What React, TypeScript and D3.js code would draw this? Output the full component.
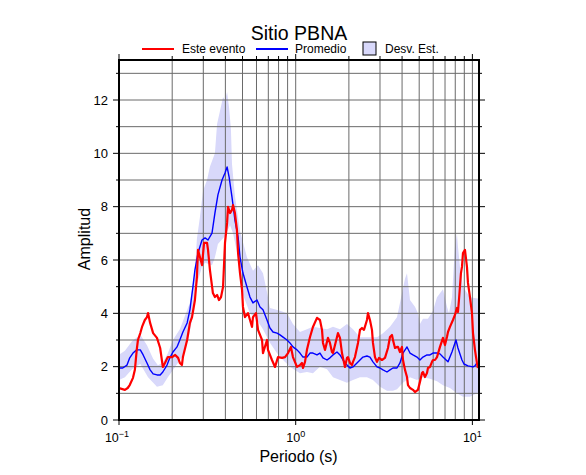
import React from 'react';
import * as d3 from 'd3';

// ---- Data (period in s, amplitude) ----
const redPeriod = [0.100,0.108,0.112,0.115,0.120,0.123,0.126,0.128,0.132,0.135,0.140,0.144,0.146,0.150,0.156,0.164,0.171,0.177,0.182,0.189,0.200,0.208,0.216,0.221,0.227,0.230,0.243,0.252,0.259,0.269,0.276,0.280,0.287,0.295,0.303,0.315,0.319,0.327,0.340,0.349,0.359,0.368,0.378,0.388,0.398,0.409,0.414,0.425,0.436,0.442,0.453,0.465,0.472,0.484,0.497,0.503,0.516,0.537,0.566,0.573,0.596,0.612,0.645,0.653,0.688,0.697,0.734,0.764,0.794,0.837,0.870,0.905,0.940,0.965,1.017,1.057,1.085,1.100,1.129,1.158,1.205,1.252,1.320,1.372,1.409,1.427,1.465,1.523,1.563,1.604,1.626,1.713,1.735,1.781,1.828,1.852,1.901,1.951,1.977,2.029,2.082,2.110,2.165,2.252,2.311,2.372,2.435,2.531,2.565,2.632,2.702,2.737,2.810,2.884,2.960,3.078,3.201,3.329,3.417,3.507,3.553,3.647,3.743,3.793,3.892,3.995,4.048,4.155,4.265,4.321,4.435,4.611,4.732,4.920,5.050,5.185,5.252,5.391,5.534,5.606,5.754,5.906,5.984,6.143,6.305,6.555,6.816,6.995,7.180,7.275,7.465,7.763,7.968,8.179,8.286,8.394,8.616,8.730,8.845,9.078,9.318,9.441,9.690,9.945,10.08,10.34,10.61,10.75];
const redAmp = [1.20,1.13,1.20,1.31,1.58,1.88,2.63,3.00,3.26,3.49,3.75,3.86,4.01,3.64,3.26,3.08,2.70,1.99,2.14,2.36,2.36,2.44,2.33,2.14,2.06,2.36,3.00,3.64,3.86,4.50,5.36,6.38,6.11,5.81,6.64,6.64,6.38,5.63,4.76,4.61,4.69,4.50,4.61,4.99,6.64,7.39,7.99,7.76,7.88,8.06,7.76,7.13,6.26,5.51,4.88,4.24,3.86,4.01,3.49,3.86,4.01,3.38,3.00,2.51,3.00,2.63,2.25,1.99,2.36,2.33,2.36,2.51,2.74,2.36,1.99,2.06,2.14,1.95,2.18,2.63,3.11,3.49,3.83,3.75,3.38,2.89,2.63,3.08,2.89,2.55,2.51,3.11,3.26,3.08,2.51,2.33,1.99,2.33,2.36,2.14,2.06,2.18,2.36,2.89,3.38,3.45,3.38,3.75,4.01,3.75,3.38,2.89,2.36,2.18,2.33,2.25,2.33,2.70,3.11,3.19,3.00,2.70,2.74,2.74,2.55,2.74,2.25,1.88,1.61,1.31,1.20,1.13,1.05,1.13,1.43,1.76,1.80,1.61,1.76,1.95,1.99,2.18,2.25,2.25,2.36,2.74,3.08,2.81,3.11,3.30,3.49,3.75,3.94,4.20,4.05,4.50,5.51,5.74,6.26,6.38,5.74,5.14,4.61,4.01,3.26,2.63,2.14,1.95];

const bluePeriod = [0.100,0.105,0.111,0.115,0.120,0.126,0.132,0.137,0.144,0.150,0.156,0.164,0.171,0.177,0.187,0.194,0.202,0.213,0.221,0.230,0.243,0.252,0.262,0.269,0.280,0.295,0.307,0.319,0.336,0.349,0.363,0.383,0.398,0.409,0.420,0.436,0.453,0.472,0.484,0.503,0.530,0.551,0.573,0.604,0.628,0.653,0.688,0.715,0.744,0.784,0.815,0.848,0.893,0.928,0.965,1.017,1.057,1.100,1.158,1.205,1.252,1.320,1.372,1.427,1.504,1.563,1.626,1.713,1.781,1.852,1.951,2.029,2.110,2.223,2.311,2.403,2.531,2.632,2.737,2.884,2.999,3.119,3.286,3.417,3.553,3.743,3.892,4.048,4.265,4.435,4.611,4.858,5.050,5.252,5.534,5.754,5.984,6.305,6.555,6.816,7.275,7.663,8.074,8.286,8.730,8.961,9.441,10.08,10.34,10.61,10.90];
const blueAmp = [1.95,1.95,2.06,2.33,2.51,2.63,2.63,2.44,2.14,1.88,1.73,1.69,1.69,1.80,2.06,2.33,2.55,2.74,3.00,3.30,3.64,4.13,4.99,5.63,6.26,6.75,6.83,6.75,7.01,7.76,8.44,9.00,9.26,9.49,9.11,8.36,7.50,6.86,6.11,5.51,4.99,4.61,4.39,4.50,4.24,4.13,3.75,3.45,3.30,3.26,3.19,3.11,3.00,2.89,2.74,2.63,2.51,2.36,2.36,2.51,2.51,2.44,2.51,2.33,2.25,2.33,2.44,2.55,2.44,2.25,2.06,1.95,1.99,2.14,2.25,2.36,2.40,2.36,2.18,1.99,1.95,1.88,1.80,1.88,1.95,1.95,2.14,2.51,2.74,2.51,2.44,2.36,2.25,2.36,2.44,2.44,2.51,2.51,2.48,2.36,2.18,2.55,3.00,2.70,2.25,2.10,2.03,1.99,2.03,2.14,2.06];

const upperPeriod = [0.100,0.108,0.1185,0.132,0.144,0.156,0.166,0.177,0.189,0.202,0.221,0.236,0.252,0.269,0.276,0.287,0.299,0.315,0.327,0.349,0.359,0.373,0.388,0.398,0.409,0.420,0.430,0.436,0.453,0.484,0.530,0.573,0.612,0.653,0.688,0.715,0.815,0.893,0.965,1.057,1.158,1.252,1.372,1.504,1.626,1.781,1.951,2.110,2.311,2.531,2.884,3.119,3.417,3.743,3.995,4.155,4.265,4.435,4.732,4.920,5.050,5.252,5.606,5.984,6.305,6.555,6.816,7.180,7.371,7.663,7.968,8.179,8.286,8.505,8.845,9.690,10.90];
const upperAmp = [2.45,2.6,2.95,3.2,2.8,2.3,2.05,2.15,2.5,3.0,3.4,3.9,4.4,5.6,6.8,7.6,8.6,9.0,9.5,10.0,11.1,11.6,12.1,12.0,12.3,11.7,10.9,9.6,8.4,7.1,6.1,5.6,5.8,5.5,4.8,4.2,4.1,4.0,3.6,3.3,3.4,3.5,3.45,3.4,3.5,3.4,3.6,3.4,3.1,3.1,3.1,3.25,3.5,3.85,4.75,5.3,5.5,4.5,4.25,4.0,3.6,3.8,3.8,4.1,4.6,4.75,4.9,4.25,4.0,4.6,6.5,7.0,6.5,5.75,5.0,4.6,4.55];

const lowerPeriod = [0.100,0.108,0.1185,0.132,0.146,0.164,0.177,0.189,0.208,0.227,0.246,0.262,0.276,0.295,0.307,0.336,0.349,0.363,0.398,0.425,0.442,0.465,0.484,0.503,0.530,0.551,0.604,0.653,0.715,0.784,0.848,0.928,1.057,1.158,1.252,1.372,1.504,1.626,1.781,1.951,2.110,2.311,2.531,2.737,2.999,3.286,3.553,3.743,4.048,4.435,4.858,5.252,5.754,6.305,6.816,7.465,8.179,8.845,9.690,10.61,10.90];
const lowerAmp = [1.5,1.6,1.9,2.1,1.6,1.25,1.3,1.6,2.0,2.35,3.0,3.9,5.1,5.75,5.9,5.8,6.1,6.6,6.9,7.3,7.0,6.3,5.4,4.7,4.3,4.0,3.75,3.4,2.9,2.5,2.25,2.0,1.75,1.8,1.75,2.0,1.9,1.6,1.5,1.4,1.5,1.6,1.6,1.5,1.25,1.1,1.1,1.15,1.4,1.6,1.5,1.6,1.55,1.45,1.3,1.2,1.0,0.87,0.87,1.0,1.05];

const xGrid = [0.2,0.3,0.4,0.5,0.6,0.7,0.8,0.9,1,2,3,4,5,6,7,8,9,10];
const xMajor = [0.1,1,10];
const xMajorExp = ['−1','0','1'];
const yTicks = [0,1,2,3,4,5,6,7,8,9,10,11,12,13];
const yLabels = [0,2,4,6,8,10,12];

const title = 'Sitio PBNA';
const legendLabels = ['Este evento','Promedio','Desv. Est.'];
const xTitle = 'Periodo (s)';
const yTitle = 'Amplitud';

const FONT = '"Liberation Sans", Arial, Helvetica, sans-serif';

export default function App() {
  const L = 119, R = 479, T = 60, B = 420;
  const x = d3.scaleLog().domain([0.1, 10.9]).range([L, R]);
  const y = d3.scaleLinear().domain([0, 13.5]).range([B, T]);

  const line = d3.line<[number, number]>().x(d => x(d[0])).y(d => y(d[1]));
  const red = redPeriod.map((p, i) => [p, redAmp[i]] as [number, number]);
  const blue = bluePeriod.map((p, i) => [p, blueAmp[i]] as [number, number]);
  const up = upperPeriod.map((p, i) => [p, upperAmp[i]] as [number, number]);
  const lo = lowerPeriod.map((p, i) => [p, lowerAmp[i]] as [number, number]).reverse();
  const bandPath = line([...up, ...lo]) + 'Z';

  const gridColor = '#6a6a6a';

  return (
    <svg width={586} height={475} style={{ position: 'absolute', left: 0, top: 0, background: '#fff' }} fontFamily={FONT}>
      <defs>
        <clipPath id="plot"><rect x={L} y={T} width={R - L} height={B - T} /></clipPath>
      </defs>
      <rect x={0} y={0} width={586} height={475} fill="#fff" />
      <g clipPath="url(#plot)">
        <path d={bandPath} fill="#d8d8fa" stroke="none" />
      </g>
      {/* grid */}
      {xGrid.map(v => (
        <line key={'gx' + v} x1={x(v)} x2={x(v)} y1={T} y2={B} stroke={gridColor} strokeWidth={1} />
      ))}
      {yTicks.filter(v => v > 0).map(v => (
        <line key={'gy' + v} x1={L} x2={R} y1={y(v)} y2={y(v)} stroke={gridColor} strokeWidth={1} />
      ))}
      <g clipPath="url(#plot)">
        <path d={line(blue) || ''} fill="none" stroke="#0000ff" strokeWidth={1.4} strokeLinejoin="round" />
        <path d={line(red) || ''} fill="none" stroke="#ff0000" strokeWidth={2.2} strokeLinejoin="round" />
      </g>
      {/* ticks */}
      {yTicks.map(v => {
        const len = v % 2 === 0 ? 6 : 3;
        return (
          <g key={'ty' + v}>
            <line x1={L - len} x2={L} y1={y(v)} y2={y(v)} stroke="#000" strokeWidth={1} />
            <line x1={R} x2={R + len} y1={y(v)} y2={y(v)} stroke="#000" strokeWidth={1} />
          </g>
        );
      })}
      {[0.1, ...xGrid].map(v => {
        const major = xMajor.includes(v);
        const len = major ? 6 : 4;
        return (
          <g key={'tx' + v}>
            <line x1={x(v)} x2={x(v)} y1={T - len} y2={T} stroke="#000" strokeWidth={1} />
            {major && <line x1={x(v)} x2={x(v)} y1={B} y2={B + 5} stroke="#000" strokeWidth={1} />}
          </g>
        );
      })}
      {/* frame */}
      <rect x={L} y={T} width={R - L} height={B - T} fill="none" stroke="#000" strokeWidth={2} />
      {/* y labels */}
      {yLabels.map(v => (
        <text key={'ly' + v} x={108} y={y(v)} dy="0.35em" textAnchor="end" fontSize={13} fill="#000">{v}</text>
      ))}
      {/* x labels */}
      {xMajor.map((v, i) => (
        <text key={'lx' + v} x={x(v) - (i === 0 ? 2 : 0)} y={442} textAnchor="middle" fontSize={12.5} fill="#000">
          10<tspan dy={-5} fontSize={9}>{xMajorExp[i]}</tspan>
        </text>
      ))}
      {/* titles */}
      <text x={299} y={39.5} textAnchor="middle" fontSize={19.5} fill="#000">{title}</text>
      <text x={298.5} y={462} textAnchor="middle" fontSize={16} fill="#000">{xTitle}</text>
      <text transform="translate(89.5,239) rotate(-90)" textAnchor="middle" fontSize={16} fill="#000">{yTitle}</text>
      {/* legend */}
      <line x1={142} x2={174} y1={49} y2={49} stroke="#ff0000" strokeWidth={2} />
      <text x={182} y={53} fontSize={12} fill="#000">{legendLabels[0]}</text>
      <line x1={256} x2={288} y1={49} y2={49} stroke="#0000ff" strokeWidth={2} />
      <text x={295} y={53} fontSize={12} fill="#000">{legendLabels[1]}</text>
      <rect x={363} y={42} width={13} height={13} fill="#d8d8fa" stroke="#000" strokeWidth={1} />
      <text x={385} y={53} fontSize={12} fill="#000">{legendLabels[2]}</text>
    </svg>
  );
}
